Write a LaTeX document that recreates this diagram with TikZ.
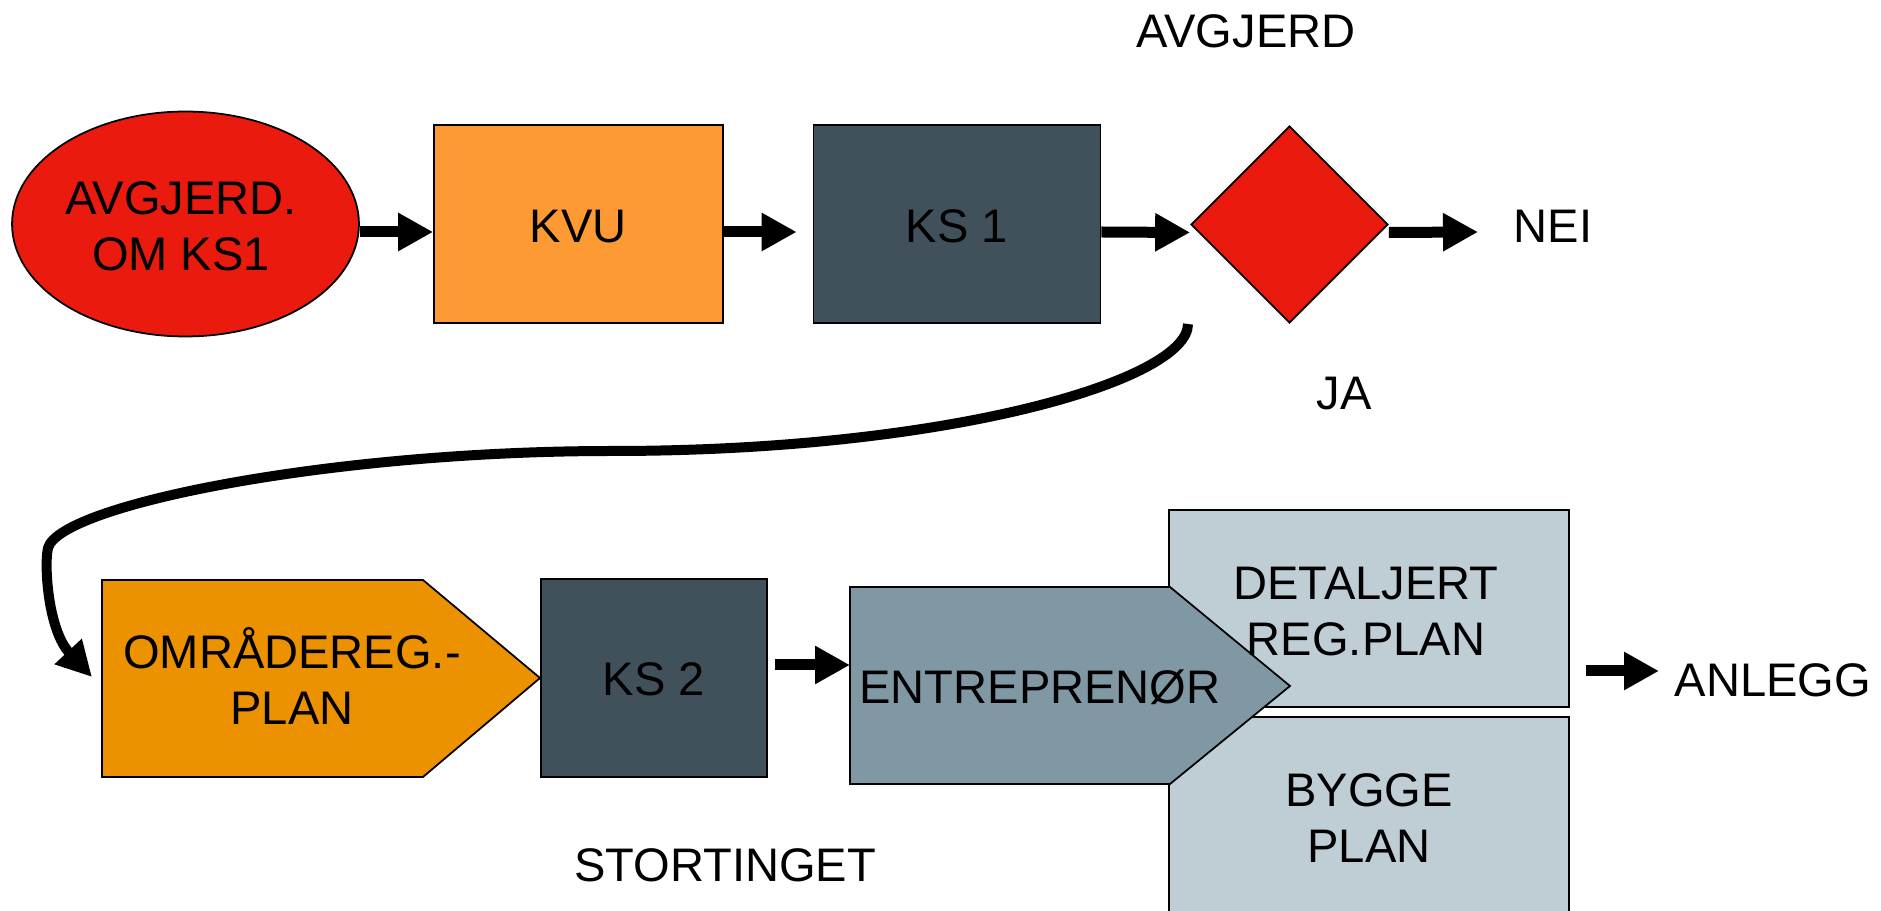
\documentclass[tikz,border=0pt]{standalone}
\usepackage{fontspec}
\setmainfont{Liberation Sans}
\usetikzlibrary{arrows.meta,shapes.geometric}

\definecolor{avgred}{RGB}{234,26,15}
\definecolor{kvuorange}{RGB}{254,154,52}
\definecolor{ksslate}{RGB}{64,81,92}
\definecolor{planorange}{RGB}{236,146,0}
\definecolor{entgrey}{RGB}{128,152,164}
\definecolor{detgrey}{RGB}{191,205,213}

\begin{document}
\begin{tikzpicture}[x=0.02cm, y=-0.02cm,
	every node/.style={font=\fontsize{26.8}{32.4}\selectfont, inner sep=0pt},
	box/.style={draw=black, line width=1pt, rectangle, minimum height=3.96cm},
	lbl/.style={anchor=base, align=center},
	fatarrow/.style={line width=0.22cm, -{Triangle[length=0.7cm,width=0.72cm]}},
	curvearrow/.style={line width=0.2cm, -{Triangle[length=0.7cm,width=0.7cm]}}]

	% ---- parameters

	\def\lw{1pt}
	\def\dy{-0.16cm}

	\useasboundingbox (0,0) rectangle (1881,911);

	% ---- top row

	\node[ellipse, draw, fill=avgred, line width=\lw, minimum width=6.94cm, minimum height=4.5cm] (avg) at (185.5,224) {};
	\node[box, fill=kvuorange, minimum width=5.78cm] (kvu) at (578.5,224) {};
	\node[box, fill=ksslate, minimum width=5.74cm] (ks1) at (957,224) {};
	\node[diamond, aspect=1, draw, fill=avgred, line width=\lw, minimum width=3.94cm, minimum height=3.94cm] (dia) at (1289.5,224.5) {};

	% ---- bottom row

	\coordinate (omr-nw) at (102,580);
	\coordinate (omr-ne) at (423,580);
	\coordinate (omr-tip) at (540,678);
	\coordinate (omr-se) at (423,777);
	\coordinate (omr-sw) at (102,777);
	\draw[fill=planorange, line width=\lw] (omr-nw) -- (omr-ne) -- (omr-tip) -- (omr-se) -- (omr-sw) -- cycle;

	\node[box, fill=ksslate, minimum width=4.52cm] (ks2) at (654,678) {};

	\node[box, fill=detgrey, minimum width=8cm, minimum height=3.94cm] (det) at (1369,608.5) {};
	\node[box, fill=detgrey, minimum width=8cm, minimum height=3.94cm] (byg) at (1369,815.5) {};

	\coordinate (ent-nw) at (850,587);
	\coordinate (ent-ne) at (1170,587);
	\coordinate (ent-tip) at (1290,686);
	\coordinate (ent-se) at (1170,784);
	\coordinate (ent-sw) at (850,784);
	\draw[fill=entgrey, line width=\lw] (ent-nw) -- (ent-ne) -- (ent-tip) -- (ent-se) -- (ent-sw) -- cycle;

	% ---- labels (two-line labels sit on their last line)

	\node[lbl] (avg-txt) at (181,271) {AVGJERD.\\OM KS1};
	\node[lbl] (kvu-txt) at (578,243) {KVU};
	\node[lbl] (ks1-txt) at (957,243) {KS 1};
	\node[lbl] (avgjerd) at (1246,48) {AVGJERD};
	\node[lbl] (nei) at (1553,243) {NEI};
	\node[lbl] (ja) at (1344,410) {JA};

	\node[lbl] (omr-txt) at (292,725) {OMRÅDEREG.-\\PLAN};
	\node[lbl] (ks2-txt) at (654,696) {KS 2};
	\node[lbl] (ent-txt) at (1040,704) {ENTREPRENØR};
	\node[lbl] (det-txt) at (1366,656) {DETALJERT\\REG.PLAN};
	\node[lbl] (byg-txt) at (1369,863) {BYGGE\\PLAN};
	\node[lbl] (anl) at (1773,697) {ANLEGG};
	\node[lbl] (sto) at (725,882) {STORTINGET};

	% ---- arrow ends

	\coordinate (nei-in) at (1478,232);
	\coordinate (ks2-out) at (775,665);
	\coordinate (ent-in) at (850,665);
	\coordinate (det-out) at (1586,671);
	\coordinate (anl-in) at (1659,671);
	\coordinate (dia-out) at (1188,324);
	\coordinate (omr-in) at (92,677);

	% ---- arrows

	\draw[fatarrow] ([yshift=\dy]avg.east) -- ([yshift=\dy]kvu.west);
	\draw[fatarrow, shorten >=0.32cm] ([yshift=\dy]kvu.east) -- ([yshift=\dy]ks1.west);
	\draw[fatarrow] ([yshift=\dy]ks1.east) -- ([yshift=\dy]dia.west);
	\draw[fatarrow] ([yshift=\dy]dia.east) -- (nei-in);
	\draw[fatarrow] (ks2-out) -- (ent-in);
	\draw[fatarrow] (det-out) -- (anl-in);

	% ---- JA branch

	\draw[curvearrow] (dia-out) .. controls (1188,380) and (950,451) .. (612,451)
		.. controls (330,451) and (60,505) .. (48,548)
		.. controls (44,565) and (48,630) .. (omr-in);

\end{tikzpicture}
\end{document}
